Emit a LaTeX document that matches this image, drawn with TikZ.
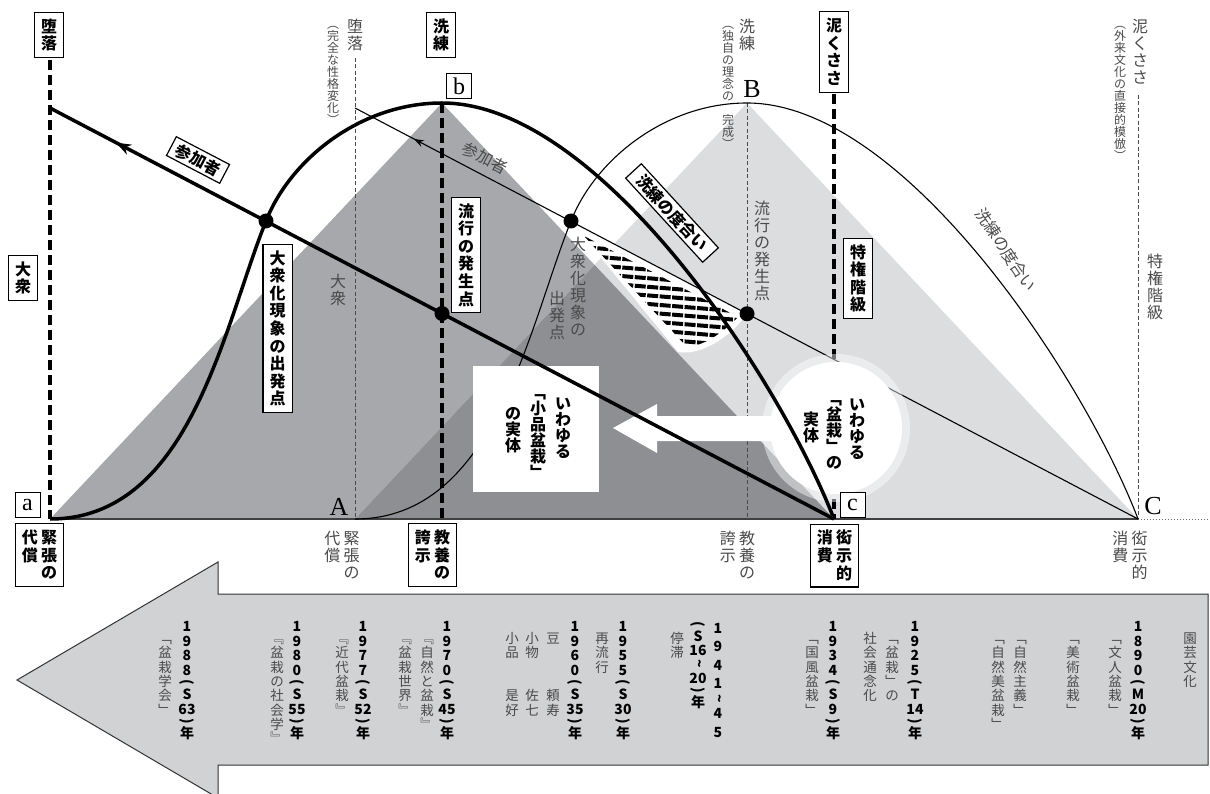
\documentclass[tikz,border=0pt]{standalone}
\usepackage{fontspec}
\usetikzlibrary{arrows.meta,decorations.markings}
\newfontfamily\jp{Noto Sans CJK JP}
\newfontfamily\ser{Liberation Serif}
\definecolor{gmid}{HTML}{A7A8AB}
\definecolor{gdark}{HTML}{8E8F93}
\definecolor{glight}{HTML}{DCDDDF}
\definecolor{garrow}{HTML}{D1D2D4}
\definecolor{txtg}{HTML}{4A4A4A}
% vertical text
\newdimen\vtpitch \newdimen\vtpad
\let\vtstop\relax \let\LP\relax \let\RP\relax \let\TL\relax
\def\vtstopmark{\vtstop}\def\LPm{\LP}\def\RPm{\RP}\def\TLm{\TL}
\newcommand\vt[2][1.06]{\vtop{\offinterlineskip\vtpitch=#1em\relax
  \vtpad=\vtpitch \advance\vtpad by -1em \vtpad=.5\vtpad
  \vtloop#2\vtstop}}
\def\vtrot#1{\kern2pt\hbox to 1.2em{\hss\rotatebox{-90}{#1}\hss}\kern2pt}
\def\vtloop#1{\def\vtarg{#1}%
  \ifx\vtarg\vtstopmark
  \else
    \ifx\vtarg\LPm \vtrot{(}%
    \else\ifx\vtarg\RPm \vtrot{)}%
    \else\ifx\vtarg\TLm \vtrot{\char"7E\relax}%
    \else \hbox to 1.2em{\hss\vrule height\dimexpr.88em+\vtpad\relax depth\dimexpr.12em+\vtpad\relax width0pt\relax #1\hss}%
    \fi\fi\fi
    \expandafter\vtloop
  \fi}
\tikzset{
  lbox/.style={draw=black, line width=1.2pt, fill=white, inner xsep=5pt, inner ysep=5pt, font=\jp\bfseries\fontsize{16}{18}\selectfont},
  glab/.style={text=txtg, inner sep=0pt, font=\jp\fontsize{16}{17}\selectfont},
  plab/.style={text=txtg, inner sep=0pt, anchor=north, font=\jp\fontsize{12}{13}\selectfont},
  yr/.style={inner sep=0pt, anchor=north, font=\jp\bfseries\fontsize{14}{15}\selectfont},
  ttl/.style={text=txtg, inner sep=0pt, anchor=north, font=\jp\fontsize{13.5}{14}\selectfont},
  wlab/.style={inner sep=0pt, anchor=north, font=\jp\bfseries\fontsize{16}{17}\selectfont},
  letbox/.style={draw=black, line width=1pt, fill=white, minimum size=25pt, inner sep=0pt, font=\ser\fontsize{24}{24}\selectfont},
  letter/.style={inner sep=0pt, font=\ser\fontsize{26}{26}\selectfont},
  heavydash/.style={line width=3.5pt, dash pattern=on 10pt off 5pt},
  lightdash/.style={draw=txtg, line width=1pt, dash pattern=on 4pt off 2.5pt},
  heavyln/.style={line width=3.5pt},
  lightln/.style={line width=1.1pt},
  dot/.style={circle, fill=black, inner sep=0pt, minimum size=15pt},
  hatchrow/.style={line width=4pt, dash pattern=on 11pt off 1.5pt},
}
\begin{document}
\begin{tikzpicture}[x=1pt,y=-1pt]
\useasboundingbox (0,0) rectangle (1210,794);
% key points
\coordinate (a) at (50,519);
\coordinate (b) at (442,103);
\coordinate (c) at (834,519);
\coordinate (A) at (355,519);
\coordinate (B) at (747,103);
\coordinate (C) at (1138,519);
\coordinate (ta) at (50,108);
\coordinate (tA) at (355,108);
\coordinate (da) at (50,60);
\coordinate (dA) at (355,58);
\coordinate (dc) at (834,94);
\coordinate (dC) at (1138,95);
\coordinate (bb) at (442,519);
\coordinate (BB) at (747,519);
\coordinate (rend) at (1210,519);
% triangles
\fill[gmid] (a) -- (b) -- (c) -- cycle;
\fill[glight] (A) -- (B) -- (C) -- cycle;
\coordinate (X) at (intersection of A--B and b--c);
\fill[gdark] (A) -- (X) -- (c) -- cycle;
% bottom arrow
\draw[fill=garrow, draw=black!80, line width=1pt] (17,680) -- (218,562) -- (218,594) -- (1208,594) -- (1208,765) -- (218,765) -- (218,798) -- cycle;
% baseline
\draw[line width=1.6pt, black!75] (a) -- (C);
\draw[black!60, line width=1pt, dotted] (C) -- (rend);
% intersection points
\coordinate (p2) at (intersection of ta--c and b--bb);
\coordinate (q2) at (intersection of tA--C and B--BB);
\coordinate (p1) at (266,221);
\coordinate (q1) at (571,221);
% hatched lens
\begin{scope}
\clip (q1) -- (q2) .. controls (730,338) and (700,356) .. (678,352) -- cycle;
\fill[white] (500,150) rectangle (800,400);
\clip (584,236) -- (738,317) .. controls (722,334) and (700,348) .. (686,346) -- cycle;
\foreach \k in {0,...,15} \draw[hatchrow] (560,{228+8.6*\k}) -- (780,{246+8.6*\k});
\end{scope}
% dashed verticals
\draw[heavydash] (da) -- (a);
\draw[heavydash] (b) -- (bb);
\draw[heavydash] (dc) -- (c);
\draw[lightdash] (dA) -- (A);
\draw[lightdash] (B) -- (BB);
\draw[lightdash] (dC) -- (C);
% thin curve and thin line
\draw[lightln] (A) .. controls (495,519) and (528,328) .. (q1) .. controls (595,160) and (665,103) .. (B) .. controls (905,103) and (1085,380) .. (C);
\draw[lightln, postaction={decorate}, decoration={markings, mark=at position 0.925 with {\arrow{Stealth[length=10pt,width=7pt]}}}] (C) -- (tA);
% circle, arrow, box
\fill[white, opacity=0.45] (836,428) circle[radius=74];
\fill[white] (836,428) circle[radius=66];
\fill[white] (613,428) -- (657,404) -- (657,416) -- (800,416) -- (800,441) -- (657,441) -- (657,453) -- cycle;
\fill[white] (473,366) rectangle (599,492);
% thick curve and thick line
\draw[heavyln] (a) .. controls (190,519) and (223,328) .. (p1) .. controls (290,160) and (360,103) .. (b) .. controls (600,103) and (780,380) .. (c);
\draw[heavyln, postaction={decorate}, decoration={markings, mark=at position 0.916 with {\arrow{Stealth[length=15pt,width=11pt]}}}] (c) -- (ta);
% dots
\node[dot] (d1) at (p1) {};
\node[dot] (d2) at (p2) {};
\node[dot] (d3) at (q1) {};
\node[dot] (d4) at (q2) {};
% letters
\node[letbox] (la) at (27.5,504.5) {a};
\node[letbox] (lb) at (459,86) {b};
\node[letbox] (lc) at (852.5,504.5) {c};
\node[letter] (lA) at (339,507) {A};
\node[letter] (lB) at (752,89) {B};
\node[letter] (lC) at (1153,506) {C};
% boxed labels
\node[lbox] (daraku) at (49,35) {\vt[1.1]{堕落}};
\node[lbox] (senren) at (441,35) {\vt[1.1]{洗練}};
\node[lbox] (dorokusa) at (834,52) {\vt[1.1]{泥くささ}};
\node[lbox] (taishu) at (23,278) {\vt[1.1]{大衆}};
\node[lbox] (taishuka) at (277.5,328.5) {\vt[1.1]{大衆化現象の出発点}};
\node[lbox] (ryuko) at (466,255) {\vt[1.1]{流行の発生点}};
\node[lbox] (tokken) at (858,278.5) {\vt[1.1]{特権階級}};
\node[lbox] (kincho) at (39.5,555) {\vt[1.1]{代償}\vt[1.1]{緊張の}};
\node[lbox] (kyoyo) at (432.5,555) {\vt[1.1]{誇示}\vt[1.1]{教養の}};
\node[lbox] (genji) at (834.5,555.5) {\vt[1.1]{消費}\vt[1.1]{衒示的}};
\node[lbox, rotate=-27.6, inner xsep=6pt, inner ysep=3pt] (sanka) at (198,160) {参加者};
\node[lbox, rotate=-47.5, inner xsep=9pt, inner ysep=3pt] (dogai) at (672,213) {洗練の度合い};
% gray labels
\node[glab, anchor=north] (g1) at (355,18) {\vt{堕落}};
\node[plab] (g1p) at (333,18) {\vt[1.0]{︵完全な性格変化︶}};
\node[glab, anchor=north] (g2) at (747,18) {\vt{洗練}};
\node[plab] (g2p) at (728,18) {\vt[1.0]{︵独自の理念の　完成︶}};
\node[glab, anchor=north] (g3) at (1140,18) {\vt{泥くささ}};
\node[plab] (g3p) at (1120,18) {\vt[1.0]{︵外来文化の直接的模倣︶}};
\node[glab, anchor=north] (g4) at (338,273) {\vt{大衆}};
\node[glab, anchor=north] (g5) at (578,236) {\vt{大衆化現象の}};
\node[glab, anchor=north] (g6) at (557,290) {\vt{出発点}};
\node[glab, anchor=north] (g7) at (762,200) {\vt{流行の発生点}};
\node[glab, anchor=north] (g8) at (1155,253) {\vt{特権階級}};
\node[glab, anchor=north] (g9) at (342,530) {\vt{代償}\vt{緊張の}};
\node[glab, anchor=north] (g10) at (737.5,530) {\vt{誇示}\vt{教養の}};
\node[glab, anchor=north] (g11) at (1130,530) {\vt{消費}\vt{衒示的}};
\node[glab, rotate=-27.6] (g12) at (485,158) {参加者};
\node[glab, rotate=-56] (g13) at (1006,250) {洗練の度合い};
% white box and circle texts
\node[wlab] (w1) at (563,395) {\vt[1.0]{いわゆる}};
\node[wlab] (w2) at (538,384) {\vt[1.0]{﹁小品盆栽﹂}};
\node[wlab] (w3) at (513,405) {\vt[1.0]{の実体}};
\node[wlab] (w4) at (857,396) {\vt[1.0]{いわゆる}};
\node[wlab] (w5) at (834,390) {\vt[1.0]{﹁盆栽﹂の}};
\node[wlab] (w6) at (811,411) {\vt[1.0]{実体}};
% timeline
\node[ttl] (t1) at (1190,631) {\vt{園芸文化}};
\node[yr] (y1) at (1138,619) {\vt[1.04]{1890\LP M{20}\RP 年}};
\node[ttl] (t2) at (1115,631) {\vt{﹁文人盆栽﹂}};
\node[ttl] (t3) at (1073,631) {\vt{﹁美術盆栽﹂}};
\node[ttl] (t4) at (1020,631) {\vt{﹁自然主義﹂}};
\node[ttl] (t5) at (998,631) {\vt{﹁自然美盆栽﹂}};
\node[yr] (y2) at (915,619) {\vt[1.04]{1925\LP T{14}\RP 年}};
\node[ttl] (t6) at (892,631) {\vt{﹁盆栽﹂の}};
\node[ttl] (t7) at (870,631) {\vt{社会通念化}};
\node[yr] (y3) at (833,619) {\vt[1.04]{1934\LP S9\RP 年}};
\node[ttl] (t8) at (812,631) {\vt{﹁国風盆栽﹂}};
\node[yr] (y4) at (718,619) {\vt[1.3]{1941\TL 45}};
\node[yr] (y5) at (698,619) {\vt[1.04]{\LP S{16}\TL{20}\RP 年}};
\node[ttl] (t9) at (677,631) {\vt{停滞}};
\node[yr] (y6) at (623,619) {\vt[1.04]{1955\LP S{30}\RP 年}};
\node[ttl] (t10) at (602,631) {\vt{再流行}};
\node[yr] (y7) at (575,619) {\vt[1.04]{1960\LP S{35}\RP 年}};
\node[ttl] (t11) at (553,631) {\vt{豆　　　頼寿}};
\node[ttl] (t12) at (532,631) {\vt{小物　　佐七}};
\node[ttl] (t13) at (512,631) {\vt{小品　　是好}};
\node[yr] (y8) at (447,619) {\vt[1.04]{1970\LP S{45}\RP 年}};
\node[ttl] (t14) at (427,631) {\vt{﹃自然と盆栽﹄}};
\node[ttl] (t15) at (405,631) {\vt{﹃盆栽世界﹄}};
\node[yr] (y9) at (363,619) {\vt[1.04]{1977\LP S{52}\RP 年}};
\node[ttl] (t16) at (342,631) {\vt{﹃近代盆栽﹄}};
\node[yr] (y10) at (297,619) {\vt[1.04]{1980\LP S{55}\RP 年}};
\node[ttl] (t17) at (277,631) {\vt{﹃盆栽の社会学﹄}};
\node[yr] (y11) at (187,619) {\vt[1.04]{1988\LP S{63}\RP 年}};
\node[ttl] (t18) at (165,631) {\vt{﹁盆栽学会﹂}};
\end{tikzpicture}
\end{document}
